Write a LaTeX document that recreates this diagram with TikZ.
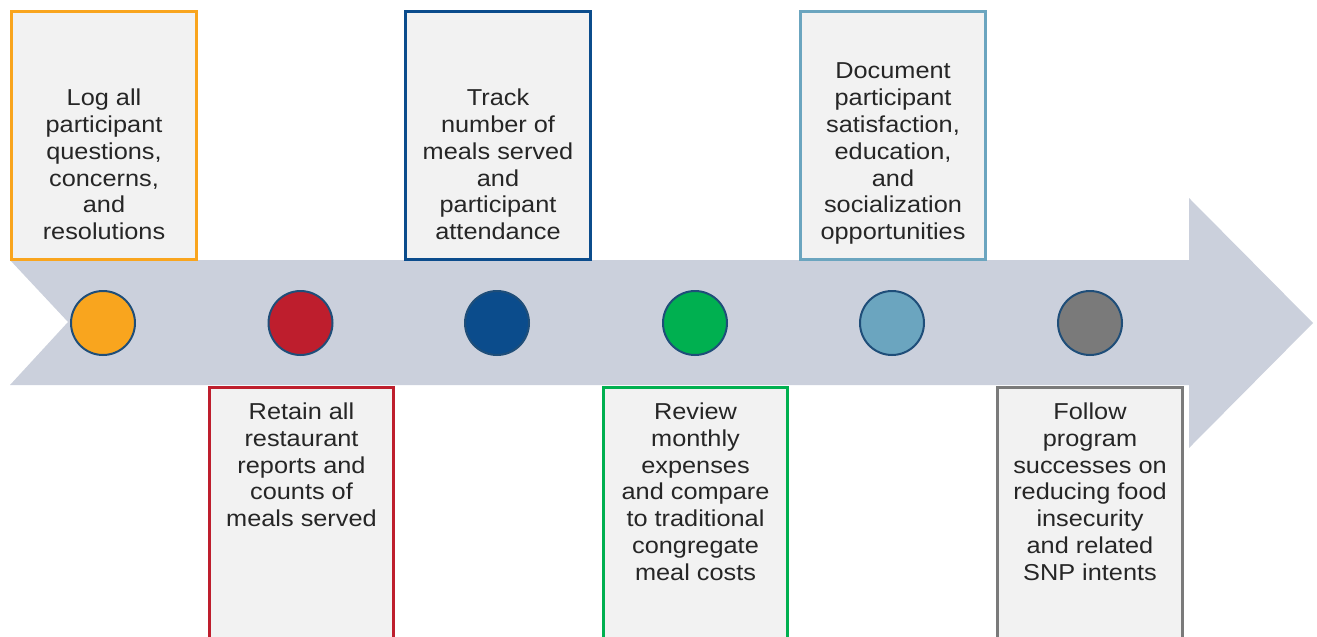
\documentclass[tikz,border=0pt]{standalone}
\usepackage{fontspec}
\setmainfont{Liberation Sans}[FakeStretch=1.1]
\definecolor{arrowgray}{HTML}{CBD0DC}
\definecolor{boxfill}{HTML}{F2F2F2}
\definecolor{ringblue}{HTML}{1F4E79}
\definecolor{stepone}{HTML}{F9A51E}
\definecolor{steptwo}{HTML}{BE1E2D}
\definecolor{stepthree}{HTML}{0B4C8C}
\definecolor{stepfour}{HTML}{00B050}
\definecolor{stepfive}{HTML}{6BA5BF}
\definecolor{stepsix}{HTML}{7A7A7A}
\definecolor{inktext}{HTML}{262626}
\begin{document}
\begin{tikzpicture}[x=0.02cm, y=-0.02cm,
  taskbox/.style={draw=#1, line width=0.06cm, fill=boxfill, minimum width=3.7cm, inner sep=0pt},
  upbox/.style={taskbox=#1, minimum height=4.96cm},
  downbox/.style={taskbox=#1, minimum height=5.45cm},
  dot/.style={circle, draw=ringblue, line width=0.04cm, fill=#1, minimum size=1.28cm, inner sep=0pt},
  tasktext/.style={align=center, inner sep=0pt, text=inktext, font=\fontsize{13.1pt}{15.25pt}\selectfont}]
\useasboundingbox (0,0) rectangle (1317,636);

\fill[arrowgray] (10,260) -- (1189,260) -- (1189,198) -- (1313,323) -- (1189,448) -- (1189,385) -- (10,385) -- (68,322) -- cycle;

\node[upbox=stepone]   (b1) at (104,135.5) {};
\node[upbox=stepthree] (b3) at (498,135.5) {};
\node[upbox=stepfive]  (b5) at (893,135.5) {};
\node[downbox=steptwo]  (b2) at (301.5,523.75) {};
\node[downbox=stepfour] (b4) at (695.5,523.75) {};
\node[downbox=stepsix]  (b6) at (1090,523.75) {};

\node[tasktext, anchor=south, text depth=0pt] (t1) at ([yshift=0.42cm]b1.south) {Log all\\participant\\questions,\\concerns,\\and\\resolutions};
\node[tasktext, anchor=south, text depth=0pt] (t3) at ([yshift=0.42cm]b3.south) {Track\\number of\\meals served\\and\\participant\\attendance};
\node[tasktext, anchor=south, text depth=0pt] (t5) at ([yshift=0.42cm]b5.south) {Document\\participant\\satisfaction,\\education,\\and\\socialization\\opportunities};
\node[tasktext, anchor=north] (t2) at ([yshift=-0.33cm]b2.north) {Retain all\\restaurant\\reports and\\counts of\\meals served};
\node[tasktext, anchor=north] (t4) at ([yshift=-0.33cm]b4.north) {Review\\monthly\\expenses\\and compare\\to traditional\\congregate\\meal costs};
\node[tasktext, anchor=north] (t6) at ([yshift=-0.33cm]b6.north) {Follow\\program\\successes on\\reducing food\\insecurity\\and related\\SNP intents};

\node[dot=stepone]   (c1) at (103,323) {};
\node[dot=steptwo]   (c2) at (300.5,323) {};
\node[dot=stepthree] (c3) at (497,323) {};
\node[dot=stepfour]  (c4) at (695,323) {};
\node[dot=stepfive]  (c5) at (892,323) {};
\node[dot=stepsix]   (c6) at (1090,323) {};
\end{tikzpicture}
\end{document}
